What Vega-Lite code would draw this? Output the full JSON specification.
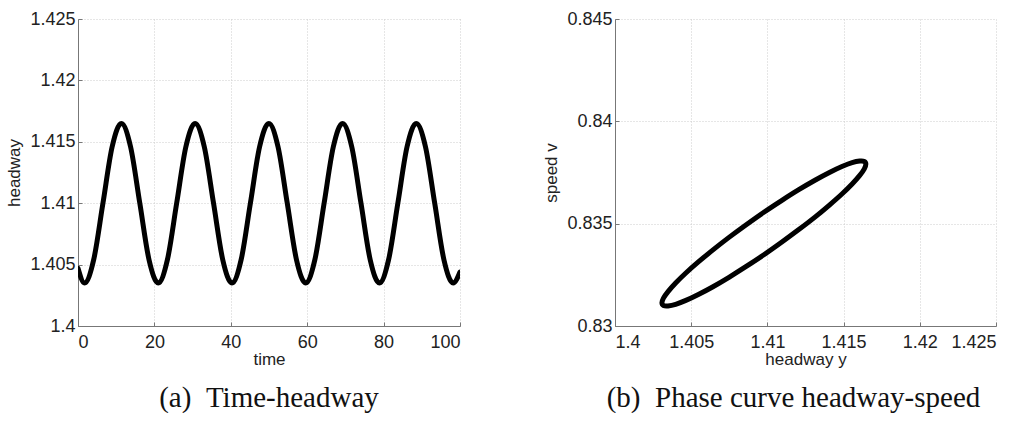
{
  "$schema": "https://vega.github.io/schema/vega-lite/v6.json",
  "background": "white",
  "padding": {"left": 5, "top": 10, "right": 0, "bottom": 0},
  "spacing": 81,
  "datasets": {
    "series": [
      {"time": 0, "headway": 1.4047},
      {"time": 1.7, "headway": 1.4035}, {"time": 4.11, "headway": 1.4054}, {"time": 6.53, "headway": 1.41}, {"time": 8.94, "headway": 1.4146},
      {"time": 11.35, "headway": 1.4165}, {"time": 13.76, "headway": 1.4146}, {"time": 16.18, "headway": 1.41}, {"time": 18.59, "headway": 1.4054},
      {"time": 21.0, "headway": 1.4035}, {"time": 23.41, "headway": 1.4054}, {"time": 25.83, "headway": 1.41}, {"time": 28.24, "headway": 1.4146},
      {"time": 30.65, "headway": 1.4165}, {"time": 33.06, "headway": 1.4146}, {"time": 35.48, "headway": 1.41}, {"time": 37.89, "headway": 1.4054},
      {"time": 40.3, "headway": 1.4035}, {"time": 42.71, "headway": 1.4054}, {"time": 45.13, "headway": 1.41}, {"time": 47.54, "headway": 1.4146},
      {"time": 49.95, "headway": 1.4165}, {"time": 52.36, "headway": 1.4146}, {"time": 54.78, "headway": 1.41}, {"time": 57.19, "headway": 1.4054},
      {"time": 59.6, "headway": 1.4035}, {"time": 62.01, "headway": 1.4054}, {"time": 64.43, "headway": 1.41}, {"time": 66.84, "headway": 1.4146},
      {"time": 69.25, "headway": 1.4165}, {"time": 71.66, "headway": 1.4146}, {"time": 74.08, "headway": 1.41}, {"time": 76.49, "headway": 1.4054},
      {"time": 78.9, "headway": 1.4035}, {"time": 81.31, "headway": 1.4054}, {"time": 83.73, "headway": 1.41}, {"time": 86.14, "headway": 1.4146},
      {"time": 88.55, "headway": 1.4165}, {"time": 90.96, "headway": 1.4146}, {"time": 93.38, "headway": 1.41}, {"time": 95.79, "headway": 1.4054},
      {"time": 98.2, "headway": 1.4035}, {"time": 100, "headway": 1.4044}
    ],
    "phase": [
      {"step": 0, "headway": 1.40308, "speed": 0.83113},
      {"step": 1, "headway": 1.40318, "speed": 0.83100},
      {"step": 2, "headway": 1.40348, "speed": 0.83098},
      {"step": 3, "headway": 1.40398, "speed": 0.83106},
      {"step": 4, "headway": 1.40465, "speed": 0.83125},
      {"step": 5, "headway": 1.40547, "speed": 0.83154},
      {"step": 6, "headway": 1.40643, "speed": 0.83192},
      {"step": 7, "headway": 1.40748, "speed": 0.83238},
      {"step": 8, "headway": 1.40861, "speed": 0.83291},
      {"step": 9, "headway": 1.40977, "speed": 0.83348},
      {"step": 10, "headway": 1.41093, "speed": 0.83409},
      {"step": 11, "headway": 1.41206, "speed": 0.83471},
      {"step": 12, "headway": 1.41312, "speed": 0.83532},
      {"step": 13, "headway": 1.41407, "speed": 0.83591},
      {"step": 14, "headway": 1.41489, "speed": 0.83645},
      {"step": 15, "headway": 1.41556, "speed": 0.83694},
      {"step": 16, "headway": 1.41606, "speed": 0.83736},
      {"step": 17, "headway": 1.41636, "speed": 0.83768},
      {"step": 18, "headway": 1.41646, "speed": 0.83791},
      {"step": 19, "headway": 1.41636, "speed": 0.83804},
      {"step": 20, "headway": 1.41606, "speed": 0.83806},
      {"step": 21, "headway": 1.41556, "speed": 0.83798},
      {"step": 22, "headway": 1.41489, "speed": 0.83779},
      {"step": 23, "headway": 1.41407, "speed": 0.83750},
      {"step": 24, "headway": 1.41312, "speed": 0.83712},
      {"step": 25, "headway": 1.41206, "speed": 0.83666},
      {"step": 26, "headway": 1.41093, "speed": 0.83613},
      {"step": 27, "headway": 1.40977, "speed": 0.83556},
      {"step": 28, "headway": 1.40861, "speed": 0.83495},
      {"step": 29, "headway": 1.40748, "speed": 0.83433},
      {"step": 30, "headway": 1.40643, "speed": 0.83372},
      {"step": 31, "headway": 1.40547, "speed": 0.83313},
      {"step": 32, "headway": 1.40465, "speed": 0.83259},
      {"step": 33, "headway": 1.40398, "speed": 0.83210},
      {"step": 34, "headway": 1.40348, "speed": 0.83168},
      {"step": 35, "headway": 1.40318, "speed": 0.83136}
    ]
  },
  "hconcat": [
    {
      "width": 382,
      "height": 307,
      "data": {"name": "series"},
      "title": {"text": "(a)\u00a0\u00a0Time-headway"},
      "mark": {"type": "line", "interpolate": "monotone", "stroke": "black", "strokeWidth": 5, "strokeCap": "round", "strokeJoin": "round", "clip": true},
      "encoding": {
        "x": {
          "field": "time", "type": "quantitative",
          "scale": {"domain": [0, 100], "nice": false, "zero": false},
          "axis": {"values": [0, 20, 40, 60, 80, 100], "format": "d", "title": "time"}
        },
        "y": {
          "field": "headway", "type": "quantitative",
          "scale": {"domain": [1.4, 1.425], "nice": false, "zero": false},
          "axis": {"values": [1.4, 1.405, 1.41, 1.415, 1.42, 1.425], "format": ".3~f", "title": "headway"}
        }
      }
    },
    {
      "width": 381,
      "height": 307,
      "data": {"name": "phase"},
      "title": {"text": "(b)\u00a0\u00a0Phase curve headway-speed", "dx": -12},
      "mark": {"type": "line", "interpolate": "cardinal-closed", "stroke": "black", "strokeWidth": 5, "strokeJoin": "round"},
      "encoding": {
        "x": {
          "field": "headway", "type": "quantitative",
          "scale": {"domain": [1.4, 1.425], "nice": false, "zero": false},
          "axis": {"values": [1.4, 1.405, 1.41, 1.415, 1.42, 1.425], "format": ".3~f", "title": "headway y"}
        },
        "y": {
          "field": "speed", "type": "quantitative",
          "scale": {"domain": [0.83, 0.845], "nice": false, "zero": false},
          "axis": {"values": [0.83, 0.835, 0.84, 0.845], "format": ".3~f", "title": "speed v"}
        },
        "order": {"field": "step", "type": "quantitative"}
      }
    }
  ],
  "config": {
    "view": {"stroke": null},
    "title": {
      "orient": "bottom",
      "anchor": "middle",
      "font": "Liberation Serif",
      "fontSize": 29,
      "fontWeight": "normal",
      "color": "#111",
      "offset": 17
    },
    "axis": {
      "labelFont": "Liberation Sans",
      "labelFontSize": 18,
      "labelColor": "#222",
      "titleFont": "Liberation Sans",
      "titleFontSize": 17,
      "titleFontWeight": "normal",
      "titleColor": "#222",
      "domainColor": "#777",
      "domainWidth": 1,
      "tickColor": "#777",
      "tickSize": -4,
      "labelPadding": 8,
      "grid": true,
      "gridColor": "#cccccc",
      "gridDash": [1, 2],
      "gridWidth": 1
    },
    "axisX": {"titlePadding": 0, "labelPadding": 11},
    "axisY": {"titlePadding": 6, "labelPadding": 7}
  }
}
